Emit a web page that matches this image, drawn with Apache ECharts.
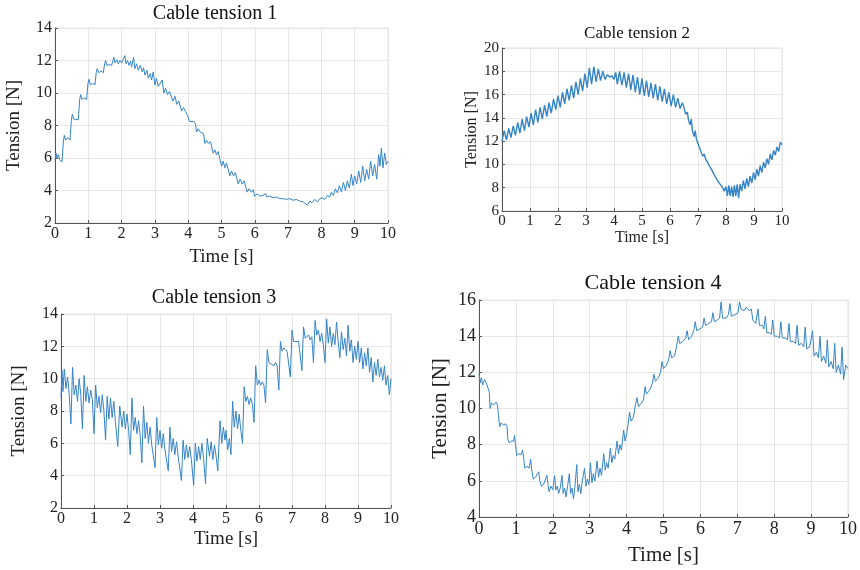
<!DOCTYPE html>
<html>
<head>
<meta charset="utf-8">
<script src="https://cdn.jsdelivr.net/npm/echarts@6/dist/echarts.min.js"></script>
<style>html,body{margin:0;padding:0;background:#fff;}#c{width:860px;height:570px;}</style>
</head>
<body>
<div id="c"></div>
<script>
const titles = ['Cable tension 1', 'Cable tension 2', 'Cable tension 3', 'Cable tension 4'];
const xName = 'Time [s]';
const yName = 'Tension [N]';
const xTicks = [0, 1, 2, 3, 4, 5, 6, 7, 8, 9, 10];
const yRanges = [[2, 14], [6, 20], [2, 14], [4, 16]];

const cable1 = [[0,5.9],[0.03,6.3],[0.06,6.0],[0.1,6.2],[0.14,5.9],[0.18,6.0],[0.21,5.75],[0.25,7.0],[0.28,7.4],[0.32,7.1],[0.38,7.25],[0.45,7.1],[0.49,8.3],[0.52,8.7],[0.56,8.4],[0.62,8.45],[0.7,8.35],[0.74,9.6],[0.77,9.9],[0.81,9.6],[0.88,9.7],[0.95,9.6],[0.99,10.6],[1.02,10.85],[1.06,10.5],[1.13,10.6],[1.2,10.5],[1.24,11.3],[1.27,11.5],[1.31,11.25],[1.38,11.35],[1.45,11.25],[1.49,11.8],[1.52,12.0],[1.56,11.7],[1.63,11.75],[1.7,11.7],[1.74,12.0],[1.77,12.2],[1.8,11.85],[1.86,12.05],[1.9,11.8],[1.95,12.0],[2.0,11.85],[2.05,12.1],[2.1,12.3],[2.13,11.8],[2.18,12.0],[2.22,11.7],[2.27,11.95],[2.3,11.6],[2.36,12.2],[2.4,11.5],[2.45,11.8],[2.5,11.4],[2.56,11.7],[2.62,11.3],[2.66,11.55],[2.7,11.1],[2.76,11.4],[2.8,10.9],[2.86,11.2],[2.9,10.8],[2.95,11.3],[3.0,10.5],[3.05,10.9],[3.1,10.4],[3.16,10.6],[3.22,10.8],[3.27,10.0],[3.32,10.3],[3.38,9.9],[3.44,10.1],[3.5,10.2],[3.54,9.5],[3.6,9.8],[3.66,9.3],[3.72,9.5],[3.76,9.6],[3.8,8.9],[3.86,9.1],[3.92,8.85],[3.98,8.6],[4.0,8.7],[4.04,8.25],[4.1,8.35],[4.17,8.25],[4.22,8.1],[4.25,7.6],[4.3,7.8],[4.36,7.6],[4.42,7.7],[4.46,7.5],[4.5,6.9],[4.55,7.1],[4.6,6.9],[4.67,7.0],[4.71,7.0],[4.75,6.3],[4.8,6.5],[4.85,6.2],[4.9,6.4],[4.96,6.3],[5.0,5.5],[5.05,5.8],[5.1,5.4],[5.15,5.7],[5.2,5.6],[5.25,4.9],[5.3,5.2],[5.36,4.9],[5.42,5.1],[5.46,5.0],[5.5,4.4],[5.56,4.7],[5.62,4.4],[5.68,4.6],[5.72,4.55],[5.77,3.9],[5.83,4.1],[5.9,3.9],[5.95,4.05],[6.0,3.65],[6.08,3.8],[6.15,3.65],[6.25,3.7],[6.32,3.8],[6.36,3.6],[6.45,3.65],[6.55,3.55],[6.65,3.6],[6.75,3.5],[6.85,3.5],[6.95,3.45],[7.05,3.5],[7.15,3.4],[7.25,3.45],[7.35,3.35],[7.45,3.3],[7.5,3.4],[7.58,3.1],[7.65,3.35],[7.72,3.25],[7.8,3.45],[7.88,3.3],[7.95,3.5],[8.02,3.55],[8.1,3.45],[8.18,3.7],[8.25,3.6],[8.3,3.9],[8.36,3.7],[8.42,4.1],[8.48,3.85],[8.54,4.3],[8.6,3.9],[8.66,4.5],[8.72,4.0],[8.78,4.6],[8.84,4.15],[8.9,5.0],[8.95,4.3],[9.0,4.9],[9.06,4.4],[9.12,5.2],[9.18,4.5],[9.24,5.5],[9.3,4.6],[9.36,5.3],[9.42,4.7],[9.48,5.8],[9.54,4.9],[9.6,5.6],[9.66,4.7],[9.72,6.2],[9.76,5.5],[9.8,6.6],[9.85,5.4],[9.9,6.3],[9.95,5.6],[10.0,5.8]];

const cable2 = [[0,12.0],[0.08,12.9],[0.16,12.1],[0.24,13.1],[0.32,12.3],[0.4,13.3],[0.48,12.5],[0.56,13.6],[0.64,12.7],[0.72,13.9],[0.8,12.9],[0.88,14.1],[0.96,13.2],[1.04,14.4],[1.12,13.4],[1.2,14.7],[1.28,13.6],[1.36,14.9],[1.44,13.9],[1.52,15.1],[1.6,14.1],[1.68,15.3],[1.76,14.4],[1.84,15.6],[1.92,14.7],[2.0,15.9],[2.08,14.9],[2.16,16.2],[2.24,15.2],[2.32,16.5],[2.4,15.5],[2.48,16.8],[2.56,15.7],[2.64,17.1],[2.72,16.0],[2.8,17.4],[2.88,16.3],[2.96,17.8],[3.04,16.6],[3.12,18.3],[3.2,16.9],[3.28,18.4],[3.36,17.1],[3.44,18.2],[3.52,17.2],[3.6,18.0],[3.68,17.3],[3.76,17.7],[3.84,17.5],[3.92,17.6],[4.0,17.3],[4.06,17.9],[4.12,16.9],[4.2,18.0],[4.28,16.8],[4.36,17.9],[4.44,16.6],[4.52,17.8],[4.6,16.4],[4.68,17.7],[4.76,16.2],[4.84,17.5],[4.92,16.0],[5.0,17.4],[5.08,15.9],[5.16,17.2],[5.24,15.8],[5.32,17.0],[5.4,15.7],[5.48,16.9],[5.56,15.5],[5.64,16.7],[5.72,15.4],[5.8,16.5],[5.88,15.2],[5.96,16.2],[6.04,15.0],[6.12,16.0],[6.2,14.9],[6.28,15.7],[6.36,14.8],[6.44,15.3],[6.5,14.9],[6.56,14.3],[6.62,14.5],[6.66,13.8],[6.72,13.4],[6.76,13.9],[6.8,12.9],[6.86,12.4],[6.9,12.9],[6.94,12.2],[7.0,11.8],[7.06,11.4],[7.12,11.0],[7.18,10.7],[7.22,10.9],[7.28,10.4],[7.34,10.2],[7.4,9.9],[7.46,10.0],[7.52,9.4],[7.58,9.1],[7.64,9.2],[7.7,8.6],[7.76,8.4],[7.82,8.5],[7.88,8.0],[7.94,7.7],[8.0,8.1],[8.05,7.3],[8.1,8.2],[8.15,7.3],[8.2,8.1],[8.25,7.2],[8.3,8.2],[8.35,7.3],[8.4,8.3],[8.45,7.1],[8.5,8.3],[8.56,7.7],[8.62,8.6],[8.68,7.9],[8.74,8.8],[8.8,8.1],[8.86,9.0],[8.92,8.4],[8.98,9.3],[9.04,8.7],[9.1,9.6],[9.16,9.0],[9.22,9.9],[9.28,9.3],[9.34,10.2],[9.4,9.7],[9.46,10.5],[9.52,10.0],[9.58,10.9],[9.64,10.4],[9.7,11.2],[9.76,10.8],[9.82,11.5],[9.88,11.1],[9.94,11.9],[10.0,11.7]];

const cable3 = [[0,8.8],[0.03,10.5],[0.06,9.2],[0.1,10.6],[0.15,9.4],[0.2,10.1],[0.25,9.0],[0.3,7.2],[0.35,10.7],[0.4,9.0],[0.45,9.6],[0.5,8.6],[0.55,10.0],[0.6,9.0],[0.65,6.9],[0.7,10.2],[0.75,8.6],[0.8,9.5],[0.85,8.5],[0.9,9.3],[0.95,8.7],[1.0,6.6],[1.05,9.6],[1.1,8.2],[1.15,8.9],[1.2,7.9],[1.25,9.0],[1.3,8.0],[1.35,6.2],[1.4,8.9],[1.45,7.5],[1.5,8.8],[1.55,7.6],[1.6,8.6],[1.65,7.3],[1.72,5.8],[1.78,8.3],[1.85,7.0],[1.9,8.0],[1.95,6.9],[2.0,7.8],[2.05,6.8],[2.1,5.3],[2.15,8.8],[2.2,6.8],[2.25,7.6],[2.3,6.6],[2.35,7.4],[2.4,6.5],[2.45,4.8],[2.5,8.3],[2.55,6.3],[2.6,7.3],[2.65,6.0],[2.7,7.0],[2.75,5.9],[2.85,4.5],[2.9,7.6],[2.95,5.9],[3.0,6.8],[3.05,5.7],[3.1,6.6],[3.15,5.6],[3.25,4.3],[3.3,7.0],[3.35,5.5],[3.4,6.3],[3.45,5.3],[3.5,6.1],[3.55,5.2],[3.65,3.7],[3.7,6.2],[3.75,5.0],[3.8,5.9],[3.85,5.1],[3.9,5.8],[3.95,5.0],[4.02,3.4],[4.07,6.0],[4.12,4.9],[4.17,5.8],[4.22,5.0],[4.27,6.0],[4.32,5.1],[4.38,3.5],[4.43,6.3],[4.5,5.2],[4.55,6.1],[4.6,5.0],[4.65,5.9],[4.7,5.2],[4.75,4.3],[4.82,7.4],[4.87,6.0],[4.92,7.0],[4.97,6.2],[5.0,6.8],[5.05,5.6],[5.1,6.3],[5.15,5.3],[5.2,8.6],[5.25,7.0],[5.3,8.0],[5.35,6.9],[5.4,7.8],[5.45,6.8],[5.5,6.0],[5.55,9.5],[5.6,8.6],[5.65,8.9],[5.7,8.4],[5.75,8.8],[5.8,8.4],[5.85,7.3],[5.9,10.8],[5.95,9.6],[6.0,9.9],[6.05,9.6],[6.1,9.8],[6.15,9.6],[6.2,8.5],[6.25,11.8],[6.3,11.0],[6.35,11.1],[6.45,10.8],[6.5,11.0],[6.55,10.8],[6.6,9.3],[6.65,12.3],[6.7,11.7],[6.75,11.9],[6.85,11.7],[6.9,11.8],[6.95,10.1],[7.0,13.0],[7.05,12.3],[7.1,12.4],[7.2,12.3],[7.25,12.4],[7.3,10.5],[7.35,13.2],[7.4,12.5],[7.5,12.7],[7.55,12.4],[7.6,12.6],[7.65,11.0],[7.7,13.6],[7.75,12.7],[7.8,13.0],[7.85,12.3],[7.9,12.8],[7.95,12.1],[8.0,11.0],[8.05,13.7],[8.1,12.2],[8.15,13.2],[8.2,12.0],[8.25,12.8],[8.3,12.1],[8.35,13.5],[8.4,12.3],[8.45,11.3],[8.5,12.9],[8.55,11.8],[8.6,12.5],[8.65,11.4],[8.7,13.3],[8.75,11.7],[8.8,12.4],[8.85,11.0],[8.9,12.0],[8.95,11.2],[9.0,12.3],[9.05,11.0],[9.1,11.9],[9.15,10.6],[9.2,11.6],[9.25,10.8],[9.3,11.9],[9.35,10.4],[9.4,11.3],[9.45,9.8],[9.5,11.0],[9.55,10.2],[9.6,11.2],[9.65,10.1],[9.7,10.7],[9.75,9.9],[9.8,10.8],[9.85,9.6],[9.9,10.2],[9.95,9.0],[10.0,10.0]];

const cable4 = [[0,11.9],[0.03,11.4],[0.06,11.7],[0.1,11.3],[0.15,11.6],[0.2,11.4],[0.25,11.5],[0.28,10.9],[0.3,10.0],[0.34,10.3],[0.4,10.2],[0.46,10.35],[0.5,10.2],[0.53,9.6],[0.56,9.0],[0.6,9.2],[0.66,9.1],[0.72,9.15],[0.76,9.0],[0.78,8.3],[0.82,8.1],[0.88,8.2],[0.94,8.2],[0.96,8.5],[0.99,8.0],[1.02,7.4],[1.08,7.5],[1.14,7.45],[1.18,7.7],[1.21,7.3],[1.24,6.7],[1.3,6.8],[1.36,6.7],[1.4,7.2],[1.43,6.6],[1.47,6.1],[1.53,6.2],[1.58,6.1],[1.62,6.5],[1.65,6.0],[1.69,5.7],[1.75,5.8],[1.8,5.7],[1.84,6.3],[1.87,5.8],[1.9,5.4],[1.95,5.7],[2.0,5.5],[2.05,6.3],[2.08,5.5],[2.12,5.7],[2.16,5.3],[2.2,5.6],[2.25,6.3],[2.28,5.3],[2.32,5.6],[2.36,5.1],[2.4,5.7],[2.45,6.4],[2.48,5.3],[2.52,5.6],[2.56,5.0],[2.6,5.7],[2.65,6.9],[2.68,5.4],[2.72,5.8],[2.76,5.3],[2.8,6.0],[2.86,6.7],[2.9,5.7],[2.94,6.1],[2.98,5.8],[3.02,7.0],[3.06,5.9],[3.1,6.4],[3.14,6.0],[3.2,7.1],[3.24,6.2],[3.28,6.7],[3.32,6.3],[3.38,7.5],[3.42,6.6],[3.46,7.0],[3.5,6.7],[3.56,7.8],[3.6,7.0],[3.64,7.4],[3.68,7.2],[3.74,8.2],[3.78,7.5],[3.82,8.0],[3.86,7.7],[3.92,8.8],[3.96,8.2],[4.0,8.6],[4.04,9.1],[4.08,9.8],[4.12,9.3],[4.18,9.5],[4.24,10.2],[4.28,10.6],[4.32,10.1],[4.4,10.3],[4.46,10.5],[4.5,11.2],[4.54,10.8],[4.62,11.0],[4.7,11.4],[4.74,11.9],[4.78,11.5],[4.86,11.7],[4.92,12.0],[4.96,12.6],[5.0,12.2],[5.08,12.4],[5.14,12.7],[5.18,13.2],[5.22,12.8],[5.3,12.9],[5.36,13.5],[5.4,14.0],[5.44,13.6],[5.52,13.7],[5.6,13.9],[5.64,14.3],[5.68,13.8],[5.76,14.0],[5.82,14.3],[5.86,14.8],[5.9,14.3],[5.98,14.4],[6.06,14.5],[6.1,15.0],[6.14,14.6],[6.22,14.7],[6.3,14.8],[6.34,15.3],[6.38,14.8],[6.46,14.9],[6.52,15.0],[6.56,15.9],[6.6,15.0],[6.7,15.0],[6.76,15.2],[6.8,15.8],[6.84,15.1],[6.94,15.2],[7.02,15.3],[7.06,15.9],[7.1,15.5],[7.18,15.4],[7.24,15.6],[7.28,15.7],[7.32,15.4],[7.38,15.5],[7.42,14.9],[7.46,15.0],[7.5,14.7],[7.56,15.5],[7.6,14.6],[7.68,14.6],[7.72,14.4],[7.76,15.1],[7.8,14.2],[7.86,14.2],[7.92,14.1],[7.96,14.9],[8.0,14.0],[8.08,14.0],[8.14,13.9],[8.18,14.8],[8.22,13.9],[8.3,13.9],[8.36,13.8],[8.4,14.7],[8.44,13.7],[8.52,13.7],[8.58,13.6],[8.62,14.6],[8.66,13.5],[8.74,13.6],[8.8,13.4],[8.84,14.5],[8.88,13.3],[8.96,13.4],[9.0,13.3],[9.04,14.3],[9.08,12.9],[9.14,13.1],[9.2,12.8],[9.24,14.0],[9.28,12.6],[9.34,12.9],[9.4,12.5],[9.44,13.8],[9.48,12.3],[9.54,12.6],[9.6,12.2],[9.64,13.6],[9.68,12.0],[9.74,12.4],[9.8,11.9],[9.84,13.4],[9.88,11.6],[9.94,12.4],[10.0,12.2]];

const seriesData = [cable1, cable2, cable3, cable4];

// layout per panel
const panels = [
  {grid:{left:55, top:28, width:333, height:195}, title:{x:215, y:4, size:20}, tick:16, name:19, xGap:25, yGap:31, lw:1},
  {grid:{left:502, top:48, width:280, height:163}, title:{x:637, y:25, size:17}, tick:15, name:16, xGap:15, yGap:22, lw:1.4},
  {grid:{left:61, top:314, width:330, height:194}, title:{x:214, y:288, size:20}, tick:16, name:19, xGap:22, yGap:32, lw:1},
  {grid:{left:479, top:300, width:369, height:217}, title:{x:653, y:272, size:22}, tick:18, name:21, xGap:28, yGap:28, lw:1}
];

const FONT = '"Liberation Serif", "Times New Roman", serif';
const LINE = '#3584c8';

const option = {
  backgroundColor: '#fff',
  animation: false,
  grid: [], xAxis: [], yAxis: [], series: [], graphic: []
};

panels.forEach((p, i) => {
  option.grid.push(Object.assign({show:true, borderColor:'#e2e2e2', borderWidth:1, backgroundColor:'#fff'}, p.grid));
  option.xAxis.push({
    type:'value', gridIndex:i, min:xTicks[0], max:xTicks[xTicks.length-1], interval:1,
    name:xName, nameLocation:'middle', nameGap:p.xGap,
    nameTextStyle:{fontFamily:FONT, fontSize:p.name, color:'#222'},
    axisLine:{show:true, onZero:false, lineStyle:{color:'#555', width:1}},
    axisTick:{show:true, inside:true, length:3, lineStyle:{color:'#555'}},
    axisLabel:{fontFamily:FONT, fontSize:p.tick, color:'#222', margin:3},
    splitLine:{show:true, lineStyle:{color:'#e6e6e6', width:1}}
  });
  option.yAxis.push({
    type:'value', gridIndex:i, min:yRanges[i][0], max:yRanges[i][1], interval:2,
    name:yName, nameLocation:'middle', nameGap:p.yGap,
    nameTextStyle:{fontFamily:FONT, fontSize:p.name, color:'#222'},
    axisLine:{show:true, onZero:false, lineStyle:{color:'#555', width:1}},
    axisTick:{show:true, inside:true, length:3, lineStyle:{color:'#555'}},
    axisLabel:{fontFamily:FONT, fontSize:p.tick, color:'#222', margin:3},
    splitLine:{show:true, lineStyle:{color:'#e6e6e6', width:1}}
  });
  option.series.push({
    type:'line', xAxisIndex:i, yAxisIndex:i, data:seriesData[i],
    showSymbol:false, symbol:'none', smooth:false,
    lineStyle:{color:LINE, width:p.lw}, z:3
  });
  option.graphic.push({
    type:'text', x:p.title.x, y:p.title.y,
    style:{text:titles[i], fontFamily:FONT, fontSize:p.title.size, fill:'#111', textAlign:'center', textVerticalAlign:'top'}
  });
});

const chart = echarts.init(document.getElementById('c'), null, {renderer:'canvas'});
chart.setOption(option);
</script>
</body>
</html>
